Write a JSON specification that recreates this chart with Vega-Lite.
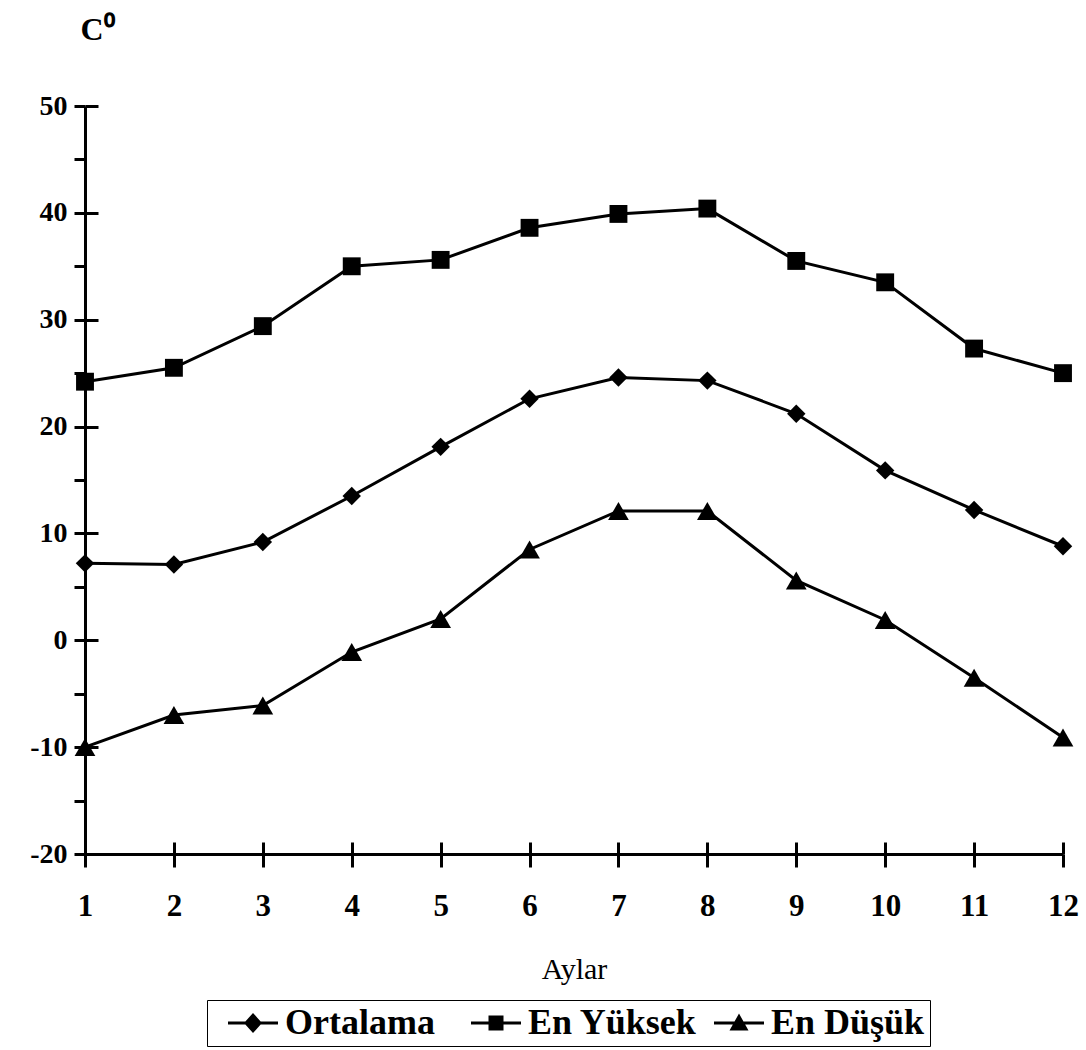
{
  "$schema": "https://vega.github.io/schema/vega-lite/v6.json",
  "autosize": {"type": "none"},
  "padding": {"left": 85, "top": 106, "right": 23, "bottom": 196},
  "width": 978,
  "height": 748,
  "background": "white",
  "config": {
    "view": {"stroke": null},
    "font": "Liberation Serif",
    "style": {"guide-label": {"font": "Liberation Serif"}, "guide-title": {"font": "Liberation Serif"}},
    "legend": {"labelFont": "Liberation Serif"}
  },
  "data": {
    "values": [
      {"ay": 1, "seri": "Ortalama", "deger": 7.2},
      {"ay": 2, "seri": "Ortalama", "deger": 7.1},
      {"ay": 3, "seri": "Ortalama", "deger": 9.2},
      {"ay": 4, "seri": "Ortalama", "deger": 13.5},
      {"ay": 5, "seri": "Ortalama", "deger": 18.1},
      {"ay": 6, "seri": "Ortalama", "deger": 22.6},
      {"ay": 7, "seri": "Ortalama", "deger": 24.6},
      {"ay": 8, "seri": "Ortalama", "deger": 24.3},
      {"ay": 9, "seri": "Ortalama", "deger": 21.2},
      {"ay": 10, "seri": "Ortalama", "deger": 15.9},
      {"ay": 11, "seri": "Ortalama", "deger": 12.2},
      {"ay": 12, "seri": "Ortalama", "deger": 8.8},
      {"ay": 1, "seri": "En Yüksek", "deger": 24.2},
      {"ay": 2, "seri": "En Yüksek", "deger": 25.5},
      {"ay": 3, "seri": "En Yüksek", "deger": 29.4},
      {"ay": 4, "seri": "En Yüksek", "deger": 35.0},
      {"ay": 5, "seri": "En Yüksek", "deger": 35.6},
      {"ay": 6, "seri": "En Yüksek", "deger": 38.6},
      {"ay": 7, "seri": "En Yüksek", "deger": 39.9},
      {"ay": 8, "seri": "En Yüksek", "deger": 40.4},
      {"ay": 9, "seri": "En Yüksek", "deger": 35.5},
      {"ay": 10, "seri": "En Yüksek", "deger": 33.5},
      {"ay": 11, "seri": "En Yüksek", "deger": 27.3},
      {"ay": 12, "seri": "En Yüksek", "deger": 25.0},
      {"ay": 1, "seri": "En Düşük", "deger": -10.0},
      {"ay": 2, "seri": "En Düşük", "deger": -7.0},
      {"ay": 3, "seri": "En Düşük", "deger": -6.1},
      {"ay": 4, "seri": "En Düşük", "deger": -1.1},
      {"ay": 5, "seri": "En Düşük", "deger": 2.0},
      {"ay": 6, "seri": "En Düşük", "deger": 8.5},
      {"ay": 7, "seri": "En Düşük", "deger": 12.1},
      {"ay": 8, "seri": "En Düşük", "deger": 12.1},
      {"ay": 9, "seri": "En Düşük", "deger": 5.6},
      {"ay": 10, "seri": "En Düşük", "deger": 1.9},
      {"ay": 11, "seri": "En Düşük", "deger": -3.5},
      {"ay": 12, "seri": "En Düşük", "deger": -9.1}
    ]
  },
  "resolve": {"axis": {"x": "independent", "y": "independent"}},
  "layer": [
    {
      "mark": {"type": "line", "color": "black", "strokeWidth": 3},
      "encoding": {
        "x": {
          "field": "ay", "type": "quantitative",
          "scale": {"domain": [1, 12], "nice": false, "zero": false},
          "axis": {
            "orient": "bottom",
            "title": "Aylar",
            "values": [1, 2, 3, 4, 5, 6, 7, 8, 9, 10, 11, 12],
            "format": "d",
            "grid": false,
            "domainColor": "black", "domainWidth": 3,
            "tickColor": "black", "tickWidth": 3, "tickSize": 13,
            "labelFont": "Liberation Serif", "labelFontWeight": "bold", "labelFontSize": 31,
            "labelColor": "black", "labelPadding": 24, "labelFlush": false, "labelOverlap": false,
            "titleFont": "Liberation Serif", "titleFontWeight": "normal", "titleFontSize": 30,
            "titleColor": "black", "titleY": 115, "titleBaseline": "middle"
          }
        },
        "y": {
          "field": "deger", "type": "quantitative",
          "scale": {"domain": [-20, 50], "nice": false, "zero": false},
          "axis": {
            "orient": "left",
            "title": "C⁰",
            "values": [-20, -15, -10, -5, 0, 5, 10, 15, 20, 25, 30, 35, 40, 45, 50],
            "labelExpr": "datum.value % 10 === 0 ? toString(datum.value) : ''",
            "grid": false,
            "domainColor": "black", "domainWidth": 3,
            "tickColor": "black", "tickWidth": 3, "tickSize": 11,
            "labelFont": "Liberation Serif", "labelFontWeight": "bold", "labelFontSize": 28,
            "labelColor": "black", "labelPadding": 7, "labelOverlap": false,
            "titleFont": "Liberation Serif", "titleFontWeight": "bold", "titleFontSize": 32,
            "titleColor": "black", "titleAngle": 0, "titleAlign": "left", "titleBaseline": "alphabetic",
            "titleX": -5, "titleY": -67
          }
        },
        "detail": {"field": "seri", "type": "nominal"}
      }
    },
    {
      "transform": [{"filter": "datum.seri === 'Ortalama'"}],
      "mark": {"type": "point", "shape": "diamond", "filled": true, "color": "black", "opacity": 1, "size": 340},
      "encoding": {
        "x": {
          "field": "ay", "type": "quantitative",
          "axis": {
            "orient": "bottom", "offset": -12,
            "values": [1, 2, 3, 4, 5, 6, 7, 8, 9, 10, 11, 12],
            "domain": false, "labels": false, "title": null, "grid": false,
            "tickColor": "black", "tickWidth": 3, "tickSize": 12
          }
        },
        "y": {
          "field": "deger", "type": "quantitative",
          "axis": {
            "orient": "left", "offset": -13,
            "values": [-20, -10, 0, 10, 20, 30, 40, 50],
            "domain": false, "labels": false, "title": null, "grid": false,
            "tickColor": "black", "tickWidth": 3, "tickSize": 13
          }
        }
      }
    },
    {
      "transform": [{"filter": "datum.seri === 'En Yüksek'"}],
      "mark": {"type": "point", "shape": "square", "filled": true, "color": "black", "opacity": 1, "size": 320},
      "encoding": {
        "x": {"field": "ay", "type": "quantitative", "axis": null},
        "y": {"field": "deger", "type": "quantitative", "axis": null}
      }
    },
    {
      "transform": [{"filter": "datum.seri === 'En Düşük'"}],
      "mark": {"type": "point", "shape": "triangle-up", "filled": true, "color": "black", "opacity": 1, "size": 430},
      "encoding": {
        "x": {"field": "ay", "type": "quantitative", "axis": null},
        "y": {"field": "deger", "type": "quantitative", "axis": null}
      }
    },
    {
      "transform": [{"filter": "datum.ay > 12"}],
      "mark": {"type": "point", "filled": true, "color": "black", "stroke": "black", "strokeWidth": 2.5, "opacity": 1},
      "encoding": {
        "shape": {
          "field": "seri", "type": "nominal",
          "scale": {
            "domain": ["Ortalama", "En Yüksek", "En Düşük"],
            "range": [
              "M-0.4,-0.3L9.6,-0.3L9.6,0.3L-0.4,0.3ZM4.6,-2L6.4,0L4.6,2L2.8,0Z",
              "M-0.4,-0.3L9.6,-0.3L9.6,0.3L-0.4,0.3ZM3.1,-1.5L6.1,-1.5L6.1,1.5L3.1,1.5Z",
              "M-0.4,-0.3L9.6,-0.3L9.6,0.3L-0.4,0.3ZM4.6,-1.9L6.5,1.5L2.7,1.5Z"
            ]
          },
          "legend": {
            "title": null,
            "orient": "none", "legendX": 122, "legendY": 894,
            "direction": "horizontal",
            "strokeColor": "black", "padding": 5,
            "symbolSize": 100, "symbolOpacity": 1,
            "symbolFillColor": "black", "symbolStrokeColor": "black", "symbolStrokeWidth": 2.5,
            "labelFont": "Liberation Serif", "labelFontWeight": "bold", "labelFontSize": 36,
            "labelColor": "black", "labelOffset": 37, "labelLimit": 400,
            "gridAlign": "all", "columnPadding": 0
          }
        }
      }
    }
  ]
}
